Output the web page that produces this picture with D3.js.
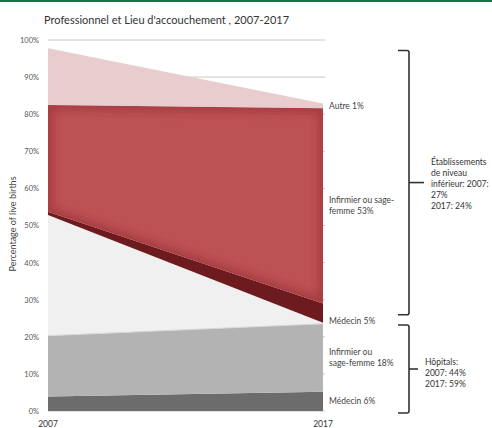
<!DOCTYPE html>
<html><head><meta charset="utf-8">
<script src="https://cdn.jsdelivr.net/npm/d3@7"></script>
<style>
html,body{margin:0;padding:0;background:#fff;}
svg{display:block;font-family:Lato,"Open Sans",sans-serif;}
</style></head>
<body><svg id="c" width="492" height="428"></svg>
<script>
// ---- data (percent of live births) ----
const years = [2007, 2017];
const keys = ["medecinHop","infirmierHop","autreLieu","medecinInf","infirmierInf","autre"];
const medecinHop   = [3.9, 5.2];
const infirmierHop = [16.4, 18.3];
const autreLieu    = [32.5, 0.3];
const medecinInf   = [0.9, 5.2];
const infirmierInf = [28.8, 52.6];
const autre        = [15.3, 1.3];
const yTicks = [0,10,20,30,40,50,60,70,80,90,100];
const endLabels = [
  {key:"autre", lines:["Autre  1%"]},
  {key:"infirmierInf", lines:["Infirmier ou sage-","femme 53%"]},
  {key:"medecinInf", lines:["Médecin 5%"]},
  {key:"infirmierHop", lines:["Infirmier ou","sage-femme 18%"]},
  {key:"medecinHop", lines:["Médecin 6%"]}
];
const groupLabels = [
  {keys:["medecinInf","infirmierInf","autre"], lines:["Établissements","de niveau","inférieur: 2007:","27%","2017: 24%"]},
  {keys:["medecinHop","infirmierHop"], lines:["Hôpitals:","2007: 44%","2017: 59%"]}
];
const title = "Professionnel et Lieu d'accouchement , 2007-2017";
const yTitle = "Percentage of live births";

const seriesData = {medecinHop, infirmierHop, autreLieu, medecinInf, infirmierInf, autre};
const table = years.map((y,i)=>{const o={year:y}; keys.forEach(k=>o[k]=seriesData[k][i]); return o;});

const colors = {
  medecinHop:"#6c6c6c", infirmierHop:"#b3b3b3", autreLieu:"#f0f0f0",
  medecinInf:"#6e1b1f", infirmierInf:"#bd5254", autre:"#e9cdce"
};

const svg = d3.select("#c");
const x = d3.scaleLinear().domain(d3.extent(years)).range([48, 323]);
const y = d3.scaleLinear().domain([0,100]).range([411, 40]);

// top green rule
svg.append("rect").attr("x",0).attr("y",0).attr("width",492).attr("height",2).attr("fill","#0a7a46");

// title
svg.append("text").attr("x",44).attr("y",24).attr("font-size",11).attr("fill","#333").text(title);

// gridlines
svg.append("g").selectAll("line").data(yTicks).join("line")
  .attr("x1",48).attr("x2",325).attr("y1",d=>y(d)).attr("y2",d=>y(d))
  .attr("stroke","#c8c8c8").attr("stroke-width",1);

// y axis labels
const ax = svg.append("g").attr("transform","translate(41,0)")
  .call(d3.axisLeft(y).tickValues(yTicks).tickFormat(d=>d+"%").tickSize(0).tickPadding(2));
ax.select(".domain").remove();
ax.selectAll("text").attr("font-size",7.5).attr("fill","#555").attr("font-family","Lato,sans-serif");

svg.append("text").attr("transform","translate(16,224) rotate(-90)")
  .attr("text-anchor","middle").attr("font-size",9).attr("fill","#444").text(yTitle);

// stacked areas
const stack = d3.stack().keys(keys)(table);
const area = d3.area().x(d=>x(d.data.year)).y0(d=>y(d[0])).y1(d=>y(d[1]));

const defs = svg.append("defs");
defs.append("filter").attr("id","blur").append("feGaussianBlur").attr("stdDeviation",4);

const layers = svg.append("g");
stack.forEach(s=>{
  layers.append("path").attr("d",area(s)).attr("fill",colors[s.key]);
});
// inner glow on the big red area
const red = stack.find(s=>s.key==="infirmierInf");
defs.append("clipPath").attr("id","redclip").append("path").attr("d",area(red));
svg.append("path").attr("d",area(red)).attr("fill","none")
  .attr("stroke","#8f2a2f").attr("stroke-width",10).attr("stroke-opacity",0.55)
  .attr("filter","url(#blur)").attr("clip-path","url(#redclip)");
// light top edge of hospital nurse band
const gray = stack.find(s=>s.key==="infirmierHop");
svg.append("path").attr("d",d3.line().x(d=>x(d.data.year)).y(d=>y(d[1]))(gray))
  .attr("stroke","#d6d6d6").attr("stroke-width",1).attr("fill","none");

// end labels
const last = years.length-1;
endLabels.forEach(l=>{
  const s = stack.find(t=>t.key===l.key);
  const mid = (s[last][0]+s[last][1])/2;
  let cy = y(mid);
  if(l.key==="autre") cy = y(s[last][1]) + 3;
  if(l.key==="medecinInf") cy = y(s[last][0]) - 2;
  const n = l.lines.length;
  const t = svg.append("text").attr("x",x(years[last])+6).attr("font-size",8.5).attr("fill","#444");
  l.lines.forEach((ln,i)=>{
    t.append("tspan").attr("x",x(years[last])+6).attr("y",cy + (i-(n-1)/2)*11 + 3).text(ln);
  });
});

// brackets
groupLabels.forEach((g,gi)=>{
  const sTop = stack.find(t=>t.key===g.keys[g.keys.length-1]);
  const sBot = stack.find(t=>t.key===g.keys[0]);
  let top = y(sTop[last][1]) - 53;
  let bot = y(sBot[last][0]) - 8;
  if(gi===1){ top = y(sBot[last][1]) + 1; bot = y(sBot[last][0]) + 2; top = bot - 88; }
  const bx = 409, mid = (top+bot)/2;
  const br = svg.append("g").attr("fill","none").attr("stroke","#333").attr("stroke-width",1.6);
  br.append("path").attr("d",`M${bx-11},${top} L${bx-2},${top} Q${bx},${top} ${bx},${top+2} L${bx},${bot-2} Q${bx},${bot} ${bx-2},${bot} L${bx-11},${bot}`);
  br.append("path").attr("d",`M${bx},${mid} L${bx+(gi===0?15:9)},${mid}`);
  const tx = gi===0 ? 431 : 425;
  const n = g.lines.length;
  const t = svg.append("text").attr("font-size",8.5).attr("fill","#333");
  g.lines.forEach((ln,i)=>{
    t.append("tspan").attr("x",tx).attr("y",mid + (i-(n-1)/2)*11 + 3 + (gi===0?1:4)).text(ln);
  });
});

// x labels
svg.append("g").selectAll("text").data(years).join("text")
  .attr("x",d=>x(d)).attr("y",427).attr("text-anchor","middle")
  .attr("font-size",8.5).attr("fill","#333").text(d=>d);
</script></body></html>
